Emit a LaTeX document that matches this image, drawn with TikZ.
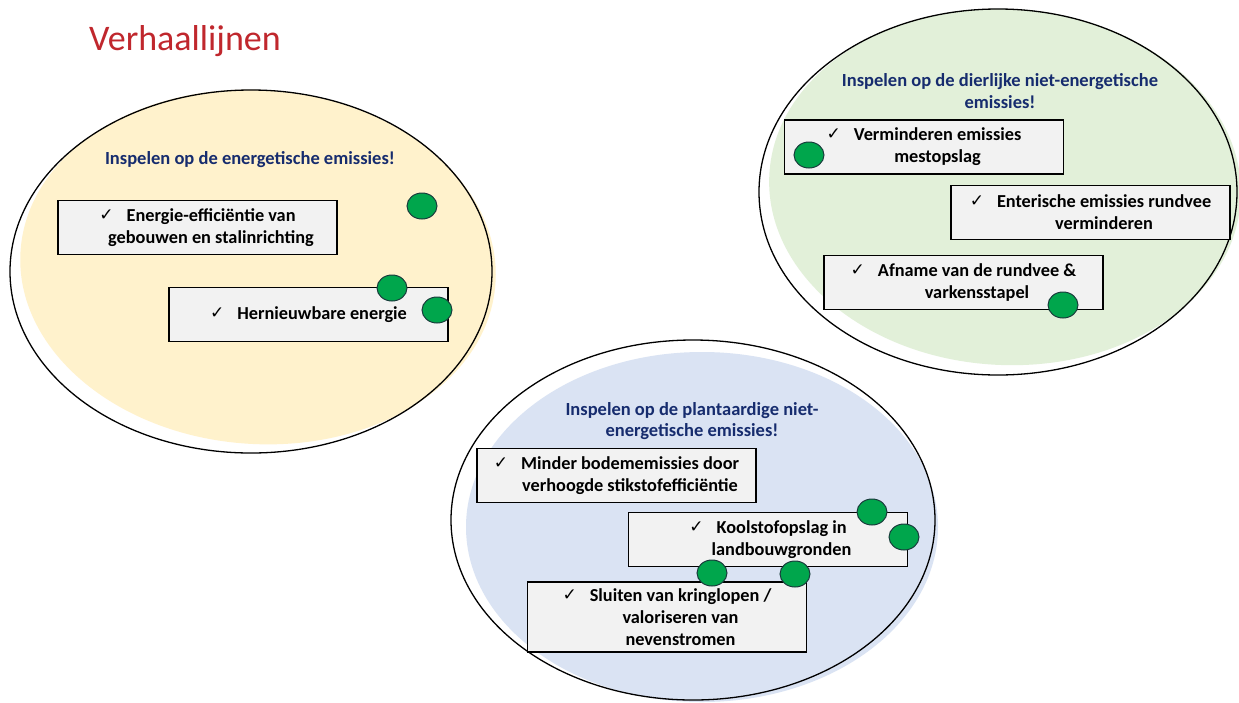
\documentclass[tikz,border=0pt]{standalone}
\usepackage{fontspec}
\setmainfont{Carlito}
\newfontfamily\ckfont{DejaVu Sans}
\usetikzlibrary{shapes.geometric}
\definecolor{titlered}{RGB}{192,39,45}
\definecolor{navy}{RGB}{22,44,110}
\definecolor{creamfill}{RGB}{255,242,204}
\definecolor{greenfill}{RGB}{226,240,217}
\definecolor{bluefill}{RGB}{218,227,243}
\definecolor{boxgray}{RGB}{242,242,242}
\definecolor{dotgreen}{RGB}{0,166,76}
\definecolor{dotline}{RGB}{25,60,60}
\newcommand{\ck}{\raisebox{1pt}{\ckfont\fontsize{17}{17}\selectfont ✓}\hspace{13pt}}
\newcommand{\ind}{\hspace*{27pt}}
\tikzset{
  blob/.style={draw=black, line width=1.3pt},
  itembox/.style={rectangle, draw=black, line width=1.1pt, fill=boxgray,
    minimum width=279pt, minimum height=54pt, inner sep=0pt, align=center,
    font=\fontsize{18.3}{22}\selectfont\bfseries},
  grouptitle/.style={align=center, text=navy, inner sep=0pt,
    font=\fontsize{18.5}{21.5}\selectfont\bfseries},
  dot/.style={ellipse, draw=dotline, fill=dotgreen, line width=1pt,
    minimum width=30pt, minimum height=26pt, inner sep=0pt}
}
\begin{document}
\begin{tikzpicture}[x=1pt,y=-1pt]
\useasboundingbox[fill=white] (0,0) rectangle (1239,702);
% title
\node[anchor=base west, text=titlered, inner sep=0pt, font=\fontsize{36}{40}\selectfont] (title) at (89,50) {Verhaallijnen};

% fills (offset, sketch style)
\fill[creamfill, rotate around={-4:(258,267)}] (258,267) ellipse [x radius=238pt, y radius=177pt];
\fill[greenfill, rotate around={-3:(1005,187)}] (1005,187) ellipse [x radius=236pt, y radius=178pt];
\fill[bluefill] (702,527) ellipse [x radius=236pt, y radius=175pt];

% outlines
\draw[blob] (251,271.5) ellipse [x radius=241pt, y radius=181.5pt];
\draw[blob] (998,192) ellipse [x radius=239pt, y radius=183pt];
\draw[blob] (693,520) ellipse [x radius=242pt, y radius=180pt];

% group titles
\node[grouptitle] (t1) at (250,160) {Inspelen op de energetische emissies!};
\node[grouptitle] (t2) at (1000,91) {Inspelen op de dierlijke niet-energetische\\emissies!};
\node[grouptitle] (t3) at (692,421) {Inspelen op de plantaardige niet-\\energetische emissies!};

% left group boxes
\node[itembox] (l1) at (197.5,227.5) {\ck Energie-efficiëntie van\\ \ind gebouwen en stalinrichting};
\node[itembox] (l2) at (308.5,314.5) {\ck Hernieuwbare energie};

% right group boxes
\node[itembox] (r1) at (924,147) {\ck Verminderen emissies\\ \ind mestopslag};
\node[itembox] (r2) at (1090.5,212.5) {\ck Enterische emissies rundvee\\ \ind verminderen};
\node[itembox] (r3) at (963.5,282.5) {\ck Afname van de rundvee \&\\ \ind varkensstapel};

% bottom group boxes
\node[itembox] (b1) at (616.5,475.5) {\ck Minder bodememissies door\\ \ind verhoogde stikstofefficiëntie};
\node[itembox] (b2) at (768,539.5) {\ck Koolstofopslag in\\ \ind landbouwgronden};
\node[itembox, minimum height=70pt] (b3) at (667,617) {\ck Sluiten van kringlopen /\\ \ind valoriseren van\\ \ind nevenstromen};

% green dots
\node[dot] (d1) at (422,206) {};
\node[dot] (d2) at (392,288) {};
\node[dot] (d3) at (437,310) {};
\node[dot] (d4) at (809,155) {};
\node[dot] (d5) at (1063,305) {};
\node[dot] (d6) at (872,512) {};
\node[dot] (d7) at (904,537) {};
\node[dot] (d8) at (712,573) {};
\node[dot] (d9) at (795,574) {};
\end{tikzpicture}
\end{document}
